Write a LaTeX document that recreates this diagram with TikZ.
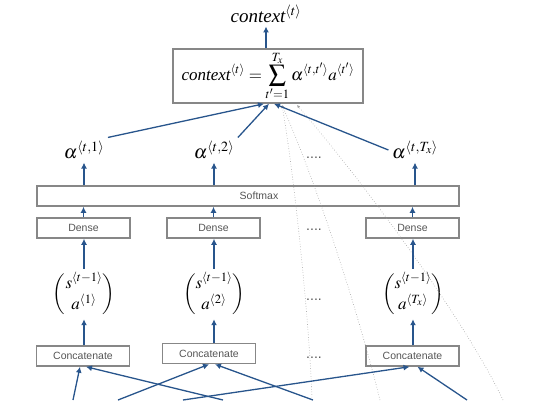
\documentclass[tikz,border=0pt]{standalone}
\usepackage{amsmath}
\usepackage{mathptmx}
\usepackage{fontspec}
\setmainfont{Liberation Serif}
\setsansfont{Liberation Sans}
\usetikzlibrary{arrows.meta}
\definecolor{arrowblue}{RGB}{40,85,140}
\definecolor{boxgray}{RGB}{135,135,135}
\definecolor{textgray}{RGB}{85,85,85}
\definecolor{linegray}{RGB}{160,160,160}
\begin{document}
\begin{tikzpicture}[x=1pt, y=-1pt, thick,
        boxtext/.style = {text=textgray, font=\sffamily\fontsize{10.5}{12}\selectfont},
        main/.style = {draw=boxgray, line width=1.5pt, minimum width=93pt, minimum height=20pt, inner sep=0pt, boxtext},
        link/.style = {draw=arrowblue, line width=1.3pt, -{Latex[length=6pt,width=6pt]}},
        faint/.style = {draw=linegray, line width=0.6pt, dotted, -{Latex[length=3pt,width=3pt]}},
        dots/.style = {text=textgray, font=\sffamily\fontsize{14}{16}\selectfont, anchor=base},
        mathbig/.style = {font=\fontsize{19}{23}\selectfont},
        mathvec/.style = {font=\fontsize{17}{20}\selectfont}]
        \useasboundingbox (0,0) rectangle (542,400);
        \node[mathbig] at (266,14) (0) {$\textit{context}^{\langle t\rangle}$};
        \node[main, minimum width=190pt, minimum height=54pt, text=black, font=\fontsize{17}{20}\selectfont] at (268,76) (1) {$\displaystyle \textit{context}^{\langle t\rangle} = \sum_{t'=1}^{T_x} \alpha^{\langle t,t'\rangle} a^{\langle t'\rangle}$};
        \node[mathbig] at (84,150) (2) {$\alpha^{\langle t,1\rangle}$};
        \node[mathbig] at (214,150) (3) {$\alpha^{\langle t,2\rangle}$};
        \node[mathbig] at (415,150) (4) {$\alpha^{\langle t,T_x\rangle}$};
        \node[main, minimum width=422pt, label={[boxtext, xshift=11pt]center:Softmax}] at (248,196) (5) {};
        \node[main] at (83.5,228) (6) {Dense};
        \node[main] at (213.5,228) (7) {Dense};
        \node[main] at (412.5,228) (8) {Dense};
        \node[mathvec] at (84,294) (9) {$\begin{pmatrix} s^{\langle t-1\rangle}\\ a^{\langle 1\rangle}\end{pmatrix}$};
        \node[mathvec] at (214,294) (10) {$\begin{pmatrix} s^{\langle t-1\rangle}\\ a^{\langle 2\rangle}\end{pmatrix}$};
        \node[mathvec] at (413,294) (11) {$\begin{pmatrix} s^{\langle t-1\rangle}\\ a^{\langle T_x\rangle}\end{pmatrix}$};
        \node[main] at (83,356) (12) {Concatenate};
        \node[main] at (209,353.5) (13) {Concatenate};
        \node[main] at (412.5,356) (14) {Concatenate};
        \node[dots] at (314,158) (15) {....};
        \node[dots] at (314,230) (16) {....};
        \node[dots] at (314,300) (17) {....};
        \node[dots] at (314,358) (18) {....};
        \coordinate (s1) at ([xshift=-4pt]1.south);
        \coordinate (s2) at ([xshift=1pt]1.south);
        \coordinate (s3) at ([xshift=6pt]1.south);
        \coordinate (g1) at (282,105);
        \coordinate (g2) at (297,105);
        \coordinate (b1) at (73,400);
        \coordinate (b2) at (223,400);
        \coordinate (b3) at (118,400);
        \coordinate (b4) at (313,400);
        \coordinate (b5) at (183,400);
        \coordinate (b6) at (467,400);
        \coordinate (b7) at (312,400);
        \coordinate (b8) at (380,400);
        \coordinate (b9) at (503,400);
        \draw [faint] (b7) .. controls (310,330) and (295,180) .. (g1);
        \draw [faint] (b8) .. controls (355,300) and (315,180) .. (g1);
        \draw [faint] (b9) .. controls (465,320) and (362,180) .. (g2);
        \draw [link] (0 |- 1.north) -- (0);
        \draw [link] (2.north east) -- (s1);
        \draw [link] (3.north east) -- (s2);
        \draw [link] (4.west) -- (s3);
        \draw [link] (2 |- 5.north) -- (2);
        \draw [link] (3 |- 5.north) -- (3);
        \draw [link] (4 |- 5.north) -- (4);
        \draw [link] (6) -- (6 |- 5.south);
        \draw [link] (7) -- (7 |- 5.south);
        \draw [link] (8) -- (8 |- 5.south);
        \draw [link] (9) -- (9 |- 6.south);
        \draw [link] (10) -- (10 |- 7.south);
        \draw [link] (11) -- (11 |- 8.south);
        \draw [link] (9 |- 12.north) -- (9);
        \draw [link] (10 |- 13.north) -- (10);
        \draw [link] (11 |- 14.north) -- (11);
        \draw [link] (b1) -- ([xshift=-3pt]12.south);
        \draw [link] (b2) -- ([xshift=3pt]12.south);
        \draw [link] (b3) -- (13.south);
        \draw [link] (b4) -- ([xshift=6pt]13.south);
        \draw [link] (b5) -- ([xshift=-3pt]14.south);
        \draw [link] (b6) -- ([xshift=5pt]14.south);
    \end{tikzpicture}
\end{document}
